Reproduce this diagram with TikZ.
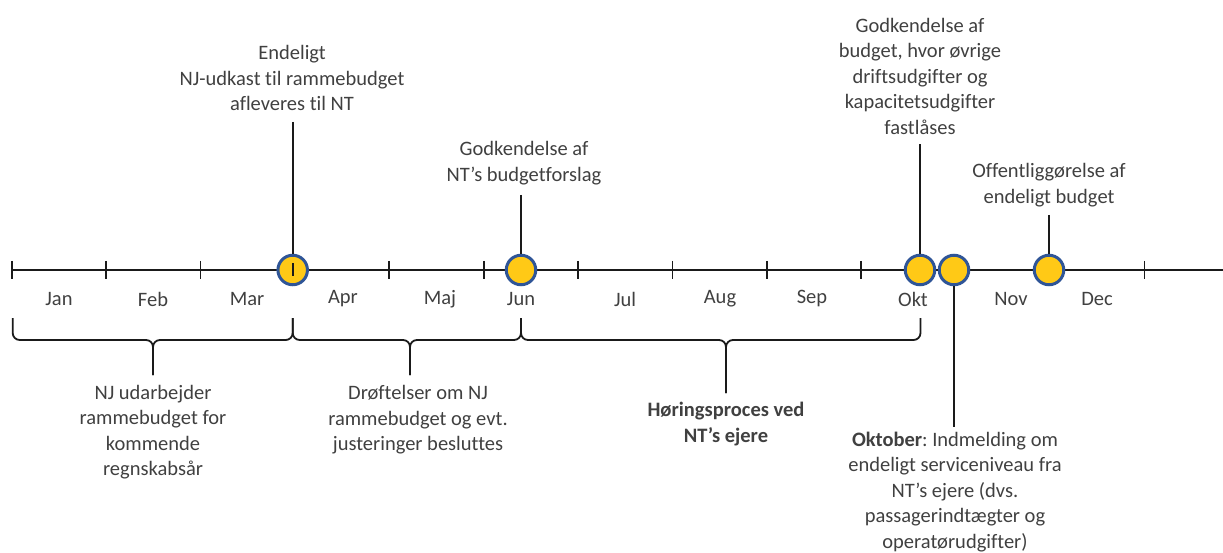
\documentclass[tikz,border=0pt]{standalone}
\usepackage{fontspec}
\setmainfont{Carlito}[Ligatures=NoCommon]
\usetikzlibrary{calc}
\frenchspacing
\definecolor{txt}{HTML}{404040}
\definecolor{dotfill}{HTML}{FFC916}
\definecolor{dotline}{HTML}{2F5597}
\definecolor{ln}{HTML}{1A1A1A}
\begin{document}
\frenchspacing
\begin{tikzpicture}[x=1pt,y=-1pt,
  lbl/.style={align=center,text=txt,font=\fontsize{20.5}{25.5}\selectfont,inner sep=5pt},
  mon/.style={text=txt,font=\fontsize{20.5}{25.5}\selectfont,inner sep=0pt},
  dot/.style={circle,fill=dotfill,draw=dotline,line width=3pt,minimum size=29.5pt,inner sep=0pt},
  axisline/.style={ln,line width=1.8pt},
  stem/.style={ln,line width=1.8pt},
  brace/.style={ln,line width=1.8pt,rounded corners=7pt}]
\useasboundingbox (0,0) rectangle (1223,553);
% axis
\draw[axisline] (11.7,270) -- (1223,270);
\foreach \x in {11.7,106.1,200.5,389.3,483.7,578.1,672.5,766.9,861.3,1144.5}
  \draw[axisline] (\x,261) -- (\x,279);
% month labels
\node[mon] (jan) at (59,299) {Jan};
\node[mon] (feb) at (153,299) {Feb};
\node[mon] (mar) at (247,299) {Mar};
\node[mon] (apr) at (343,299) {Apr};
\node[mon] (maj) at (440,299) {Maj};
\node[mon] (jun) at (521,299) {Jun};
\node[mon] (jul) at (625,299) {Jul};
\node[mon] (aug) at (720,299) {Aug};
\node[mon] (sep) at (812,299) {Sep};
\node[mon] (okt) at (913,299) {Okt};
\node[mon] (nov) at (1011,299) {Nov};
\node[mon] (dec) at (1097,299) {Dec};
% dots
\node[dot] (c1) at (292.7,270) {};
\node[dot] (c2) at (521,270) {};
\node[dot] (c3) at (920,270) {};
\node[dot] (c4) at (954,270) {};
\node[dot] (c5) at (1049,270) {};
\draw[axisline] (c1.center) ++(0,-6.5) -- ++(0,13);
% top labels
\node[lbl] (l1) at (292,78) {Endeligt\\NJ-udkast til rammebudget\\afleveres til NT};
\node[lbl] (l2) at (524,163) {Godkendelse af\\NT’s budgetforslag};
\node[lbl] (l3) at (920,76) {Godkendelse af\\budget, hvor øvrige\\driftsudgifter og\\kapacitetsudgifter\\fastlåses};
\node[lbl] (l4) at (1049,185) {Offentliggørelse af\\endeligt budget};
\draw[stem,shorten <=6pt] (l1.south -| c1) -- (c1.north);
\draw[stem,shorten <=5pt] (l2.south -| c2) -- (c2.north);
\draw[stem,shorten <=5pt] (l3.south -| c3) -- (c3.north);
\draw[stem,shorten <=3pt] (l4.south -| c5) -- (c5.north);
% braces
\coordinate (b1l) at (12.7,318);
\coordinate (b1r) at (292.7,318);
\coordinate (b1t) at (153,375);
\coordinate (b2l) at (292.7,318);
\coordinate (b2r) at (521,318);
\coordinate (b2t) at (410,375);
\coordinate (b3l) at (521,318);
\coordinate (b3r) at (920.5,318);
\coordinate (b3t) at (726,393);
\foreach \l/\r/\t in {b1l/b1r/b1t,b2l/b2r/b2t,b3l/b3r/b3t}{
  \draw[brace] (\l) -- ($(\l)+(0,22)$) -- ($(\t|-\l)+(0,22)$) -- (\t);
  \draw[brace] (\r) -- ($(\r)+(0,22)$) -- ($(\t|-\r)+(0,22)$) -- (\t);
}
% bottom labels
\node[lbl] (d1) at (153,432) {NJ udarbejder\\rammebudget for\\kommende\\regnskabsår};
\node[lbl] (d2) at (418,420) {Drøftelser om NJ\\rammebudget og evt.\\justeringer besluttes};
\node[lbl,font=\fontsize{20.5}{25.5}\selectfont\bfseries] (d3) at (726,424) {Høringsproces ved\\NT’s ejere};
\node[lbl] (d4) at (955,492) {\textbf{Oktober}: Indmelding om\\endeligt serviceniveau fra\\NT’s ejere (dvs.\\passagerindtægter og\\operatørudgifter)};
\draw[stem] (c4.south) -- (d4.north -| c4);
\end{tikzpicture}
\end{document}
